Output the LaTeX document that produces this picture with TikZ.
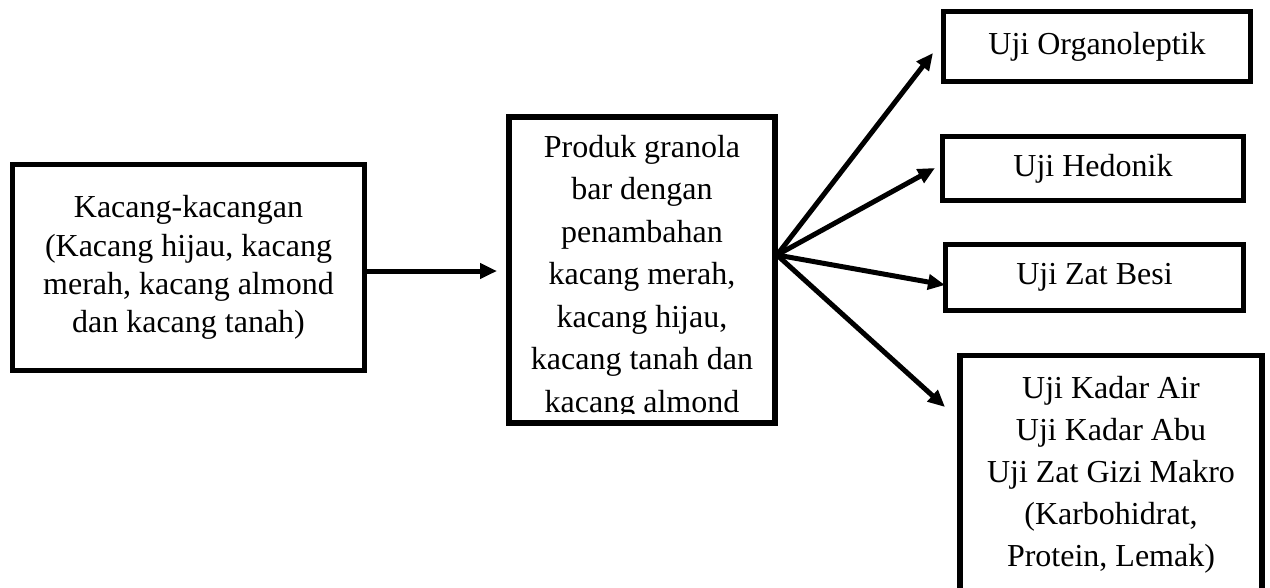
\documentclass[tikz,border=0pt]{standalone}
\usepackage{fontspec}
\setmainfont{Liberation Serif}
\usetikzlibrary{arrows.meta}
\begin{document}
\begin{tikzpicture}[x=1pt,y=-1pt,
  box/.style={draw, line width=5.2pt, align=center, inner sep=0pt},
  f38/.style={font=\fontsize{32}{38.3}\selectfont},
  f42/.style={font=\fontsize{32}{42}\selectfont},
  f425/.style={font=\fontsize{32}{42.5}\selectfont},
  arr/.style={line width=5pt, -{Triangle[length=17pt,width=15pt]}}]
\useasboundingbox (0,0) rectangle (1270,587);
\clip (0,0) rectangle (1270,587);

% left box
\node[box, f38, minimum width=352, minimum height=206] (src) at (188.5,267.5)
  {Kacang-kacangan\\(Kacang hijau, kacang\\merah, kacang almond\\dan kacang tanah)};

% middle box (its last line is cut at the bottom)
\node[box, minimum width=266, minimum height=306] (mid) at (642,270) {};
\begin{scope}
  \clip (509,117) rectangle (775,413);
  \node[f425, align=center, inner sep=0pt, anchor=north] (midtext) at (642,135)
    {Produk granola\\bar dengan\\penambahan\\kacang merah,\\kacang hijau,\\kacang tanah dan\\kacang almond};
\end{scope}

% right boxes
\node[box, f42, minimum width=307, minimum height=70] (org) at (1097,46.5) {Uji Organoleptik};
\node[box, f42, minimum width=301, minimum height=64] (hed) at (1093,168.5) {Uji Hedonik};
\node[box, f42, minimum width=298, minimum height=66] (fe) at (1094.5,277.5) {Uji Zat Besi};
\node[box, f42, anchor=north, inner ysep=21pt, minimum width=302] (prox) at (1111,353)
  {Uji Kadar Air\\Uji Kadar Abu\\Uji Zat Gizi Makro\\(Karbohidrat,\\Protein, Lemak)};

% connectors
\coordinate (fan) at (777,255);
\coordinate (t0) at (497,271);
\coordinate (t1) at (933,53);
\coordinate (t2) at (935,168);
\coordinate (t3) at (945,285);
\coordinate (t4) at (945,407);
\draw[arr] (src.east |- t0) -- (t0);
\draw[arr] (fan) -- (t1);
\draw[arr] (fan) -- (t2);
\draw[arr] (fan) -- (t3);
\draw[arr] (fan) -- (t4);
\end{tikzpicture}
\end{document}
